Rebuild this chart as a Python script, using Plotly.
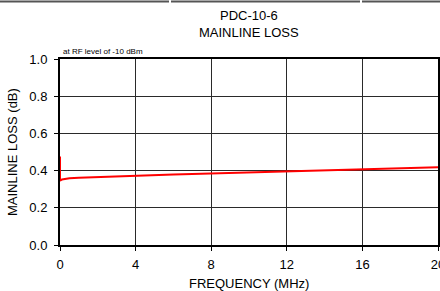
import plotly.graph_objects as go

freq_mhz = [0, 0, 0.1, 0.5, 1, 2, 3, 4, 5, 6, 7, 8, 9, 10, 11, 12, 13, 14, 15, 16, 17, 18, 19, 20]
loss_db = [0.476, 0.346, 0.352, 0.359, 0.362, 0.366, 0.370, 0.373, 0.376, 0.379, 0.382, 0.385,
           0.387, 0.389, 0.392, 0.395, 0.398, 0.401, 0.404, 0.407, 0.410, 0.413, 0.416, 0.418]

x_ticks = [0, 4, 8, 12, 16, 20]
y_ticks = [0.0, 0.2, 0.4, 0.6, 0.8, 1.0]
title_lines = ["PDC-10-6", "MAINLINE LOSS"]
note = "at RF level of -10 dBm"
x_title = "FREQUENCY (MHz)"
y_title = "MAINLINE LOSS (dB)"

FONT = "Liberation Sans, Arial, sans-serif"
W, H = 460, 291
ML, MR, MT, MB = 60, 22, 59, 46
PW, PH = W - ML - MR, H - MT - MB

fig = go.Figure()
fig.add_trace(go.Scatter(x=freq_mhz, y=loss_db, mode="lines",
                         line=dict(color="#ff0000", width=2), showlegend=False,
                         cliponaxis=False))

fig.update_layout(
    width=W, height=H,
    margin=dict(l=ML, r=MR, t=MT, b=MB, autoexpand=False),
    paper_bgcolor="white", plot_bgcolor="white",
    font=dict(family=FONT, size=13, color="#000"),
    xaxis=dict(range=[0, 20], tickvals=x_ticks, ticktext=[str(v) for v in x_ticks],
               showgrid=True, gridcolor="#2a2a2a", gridwidth=1,
               showline=True, linecolor="#000", linewidth=2, mirror=True,
               ticks="outside", ticklen=4, tickcolor="#000", zeroline=False,
               ticklabelstandoff=2, automargin=False),
    yaxis=dict(range=[0, 1.0], tickvals=y_ticks, tickformat=".1f",
               showgrid=True, gridcolor="#2a2a2a", gridwidth=1,
               showline=True, linecolor="#000", linewidth=2, mirror=True,
               ticks="outside", ticklen=4, tickcolor="#000", zeroline=False,
               ticklabelstandoff=4, automargin=False),
)

# titles
fig.add_annotation(text=title_lines[0], xref="paper", yref="paper", x=0.5, y=1,
                   yshift=44, showarrow=False, font=dict(size=13, family=FONT),
                   xanchor="center", yanchor="middle")
fig.add_annotation(text=title_lines[1], xref="paper", yref="paper", x=0.5, y=1,
                   yshift=27, showarrow=False, font=dict(size=13, family=FONT),
                   xanchor="center", yanchor="middle")
fig.add_annotation(text=note, xref="paper", yref="paper", x=0, y=1,
                   xshift=1, yshift=8, showarrow=False, font=dict(size=8, family=FONT),
                   xanchor="left", yanchor="middle")
fig.add_annotation(text=x_title, xref="paper", yref="paper", x=0.5, y=0,
                   yshift=-38, showarrow=False, font=dict(size=13, family=FONT),
                   xanchor="center", yanchor="middle")
fig.add_annotation(text=y_title, xref="paper", yref="paper", x=0, y=0.5,
                   xshift=-48, showarrow=False, textangle=-90,
                   font=dict(size=13, family=FONT),
                   xanchor="center", yanchor="middle")

# table border line at the very top of the picture
ytop = 1 + (MT - 1.5) / PH
for x0, x1 in [(0, 169), (171, 360), (362, 460)]:
    fig.add_shape(type="line", xref="paper", yref="paper",
                  x0=(x0 - ML) / PW, x1=(x1 - ML) / PW, y0=ytop, y1=ytop,
                  line=dict(color="#555", width=2))

fig.write_html("out.html", config={"displayModeBar": False},
               post_script="document.body.style.margin='0';document.body.style.overflow='hidden';")
